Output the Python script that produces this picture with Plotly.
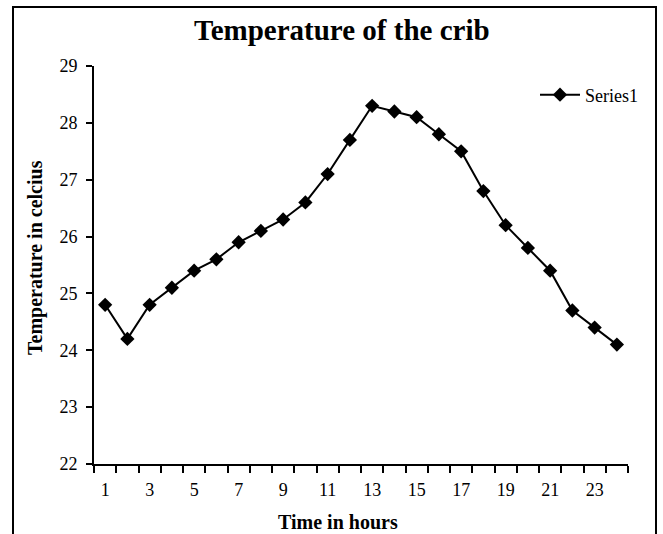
import plotly.graph_objects as go

hours = list(range(1, 25))
temps = [24.8, 24.2, 24.8, 25.1, 25.4, 25.6, 25.9, 26.1, 26.3, 26.6, 27.1, 27.7,
         28.3, 28.2, 28.1, 27.8, 27.5, 26.8, 26.2, 25.8, 25.4, 24.7, 24.4, 24.1]
x_tick_vals = list(range(1, 24, 2))
x_tick_text = [str(v) for v in x_tick_vals]
y_tick_vals = list(range(22, 30))

font = "Liberation Serif, Times New Roman, serif"

fig = go.Figure()
fig.add_trace(go.Scatter(
    x=hours, y=temps, mode="lines+markers", name="Series1",
    line=dict(color="black", width=2),
    marker=dict(symbol="diamond", size=11, color="black"),
))

W, H = 663, 534
L, R, T, B = 94, 35, 66, 70
pw, ph = W - L - R, H - T - B

def px(x):
    return (x - L) / pw

def py(y):
    return (H - B - y) / ph

fig.update_layout(
    width=W, height=H,
    margin=dict(l=L, r=R, t=T, b=B, autoexpand=False),
    paper_bgcolor="white", plot_bgcolor="white",
    font=dict(family=font, size=18, color="black"),
    showlegend=True,
    legend=dict(x=px(535), y=py(95), xanchor="left", yanchor="middle",
                bgcolor="rgba(0,0,0,0)", font=dict(size=18), itemwidth=40),
    xaxis=dict(range=[0.5, 24.5], tickmode="array", tickvals=x_tick_vals,
               ticktext=x_tick_text, ticks="", showgrid=False, zeroline=False,
               showline=True, linecolor="black", linewidth=2, automargin=False,
               ticklabelstandoff=8,
               minor=dict(tickmode="array", tickvals=[h + 0.5 for h in range(0, 25)],
                          ticks="outside", ticklen=7, tickcolor="black", tickwidth=1.5,
                          showgrid=False),
               tickfont=dict(size=18)),
    yaxis=dict(range=[22, 29], tickmode="array", tickvals=y_tick_vals,
               ticks="outside", ticklen=6, tickcolor="black", tickwidth=1.5,
               showgrid=False, zeroline=False, showline=True, linecolor="black",
               linewidth=2, automargin=False, ticklabelstandoff=5,
               tickfont=dict(size=18)),
    annotations=[
        dict(text="<b>Temperature of the crib</b>", xref="paper", yref="paper",
             x=px(342), y=py(30), xanchor="center", yanchor="middle",
             showarrow=False, font=dict(size=29)),
        dict(text="<b>Time in hours</b>", xref="paper", yref="paper",
             x=px(338), y=py(522), xanchor="center", yanchor="middle",
             showarrow=False, font=dict(size=20)),
        dict(text="<b>Temperature in celcius</b>", xref="paper", yref="paper",
             x=px(35), y=py(258), xanchor="center", yanchor="middle",
             textangle=-90, showarrow=False, font=dict(size=20)),
    ],
    shapes=[dict(type="rect", xref="paper", yref="paper",
                 x0=px(13), x1=px(656), y0=-0.4, y1=py(7),
                 line=dict(color="black", width=2), fillcolor="rgba(0,0,0,0)")],
)

fig.write_html("out.html", config={"displayModeBar": False},
               post_script="document.body.style.margin='0';")
